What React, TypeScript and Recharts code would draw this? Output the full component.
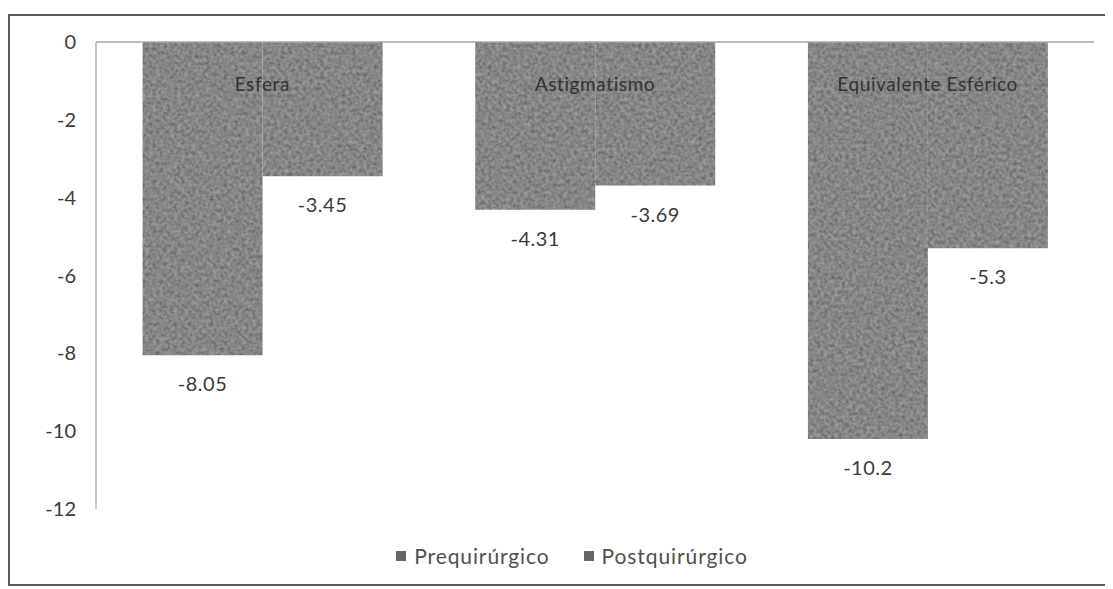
import { BarChart, Bar, XAxis, YAxis, Legend, LabelList } from "recharts";

// Refracción media antes y después de la cirugía (dioptrías)
const categories = ["Esfera", "Astigmatismo", "Equivalente Esférico"];
const prequirurgico = [-8.05, -4.31, -10.2];
const postquirurgico = [-3.45, -3.69, -5.3];
const yTicks = [0, -2, -4, -6, -8, -10, -12];
const seriesNames = ["Prequirúrgico", "Postquirúrgico"];

const data = categories.map((name, i) => ({
  name,
  pre: prequirurgico[i],
  post: postquirurgico[i],
}));

const FONT = "Lato, 'Open Sans', sans-serif";
const TEXT = "#3a3a3a";

// category names sit just under the zero line, over the bars
const CategoryTick = (props: any) => {
  const { x, y, payload } = props;
  return (
    <text x={x} y={y + 57} textAnchor="middle" fill="#333" fontSize={19} fontFamily={FONT} letterSpacing={0.6}>
      {payload.value}
    </text>
  );
};

// value printed under the end of each (negative) bar
const ValueLabel = (props: any) => {
  const { x, y, width, height, value } = props;
  const bottom = Math.max(y, y + height);
  return (
    <text x={x + width / 2} y={bottom + 36} textAnchor="middle" fill={TEXT} fontSize={20} fontFamily={FONT} letterSpacing={0.5}>
      {String(value)}
    </text>
  );
};

// legend kept in series order
const LegendContent = () => (
  <div
    style={{
      display: "flex",
      justifyContent: "center",
      gap: 34,
      paddingLeft: 40,
      fontFamily: FONT,
      fontSize: 21,
      color: "#505050",
      letterSpacing: 0.9,
    }}
  >
    {seriesNames.map((s) => (
      <span key={s} style={{ display: "inline-flex", alignItems: "center" }}>
        <span style={{ width: 10, height: 10, background: "#666", marginRight: 8, display: "inline-block" }} />
        {s}
      </span>
    ))}
  </div>
);

export default function App() {
  return (
    <div
      style={{
        marginTop: 6,
        width: 1100,
        height: 572,
        border: "2px solid #5a5a5a",
        boxSizing: "border-box",
        background: "#fff",
      }}
    >
      <BarChart
        width={1096}
        height={568}
        data={data}
        margin={{ top: 25, right: 12, bottom: 50, left: 0 }}
        barGap={0}
        barCategoryGap="14%"
      >
        <defs>
          <filter id="grain" x="0" y="0" width="100%" height="100%">
            <feTurbulence type="fractalNoise" baseFrequency="0.28" numOctaves="2" seed="7" result="noise" />
            <feColorMatrix
              in="noise"
              type="matrix"
              values="1 0 0 0 0  1 0 0 0 0  1 0 0 0 0  0 0 0 0 0.3"
              result="grey"
            />
            <feComposite in="grey" in2="SourceGraphic" operator="in" result="clipped" />
            <feMerge>
              <feMergeNode in="SourceGraphic" />
              <feMergeNode in="clipped" />
            </feMerge>
          </filter>
          <pattern id="barFill" patternUnits="userSpaceOnUse" width="1100" height="600">
            <rect width="1100" height="600" fill="#646464" filter="url(#grain)" />
          </pattern>
        </defs>
        <XAxis
          dataKey="name"
          orientation="top"
          height={1}
          tickLine={false}
          axisLine={{ stroke: "#a8a8a8", strokeWidth: 1.5 }}
          tick={<CategoryTick />}
          interval={0}
        />
        <YAxis
          domain={[-12, 0]}
          ticks={yTicks}
          width={86}
          tickLine={false}
          tickSize={0}
          tickMargin={20}
          axisLine={{ stroke: "#b0b0b0", strokeWidth: 1.5 }}
          tick={{ fill: TEXT, fontSize: 20, fontFamily: FONT }}
          interval={0}
        />
        <Legend verticalAlign="bottom" wrapperStyle={{ bottom: 16 }} content={<LegendContent />} />
        <Bar dataKey="pre" name={seriesNames[0]} fill="url(#barFill)" isAnimationActive={false}>
          <LabelList dataKey="pre" content={<ValueLabel />} />
        </Bar>
        <Bar dataKey="post" name={seriesNames[1]} fill="url(#barFill)" isAnimationActive={false}>
          <LabelList dataKey="post" content={<ValueLabel />} />
        </Bar>
      </BarChart>
    </div>
  );
}
